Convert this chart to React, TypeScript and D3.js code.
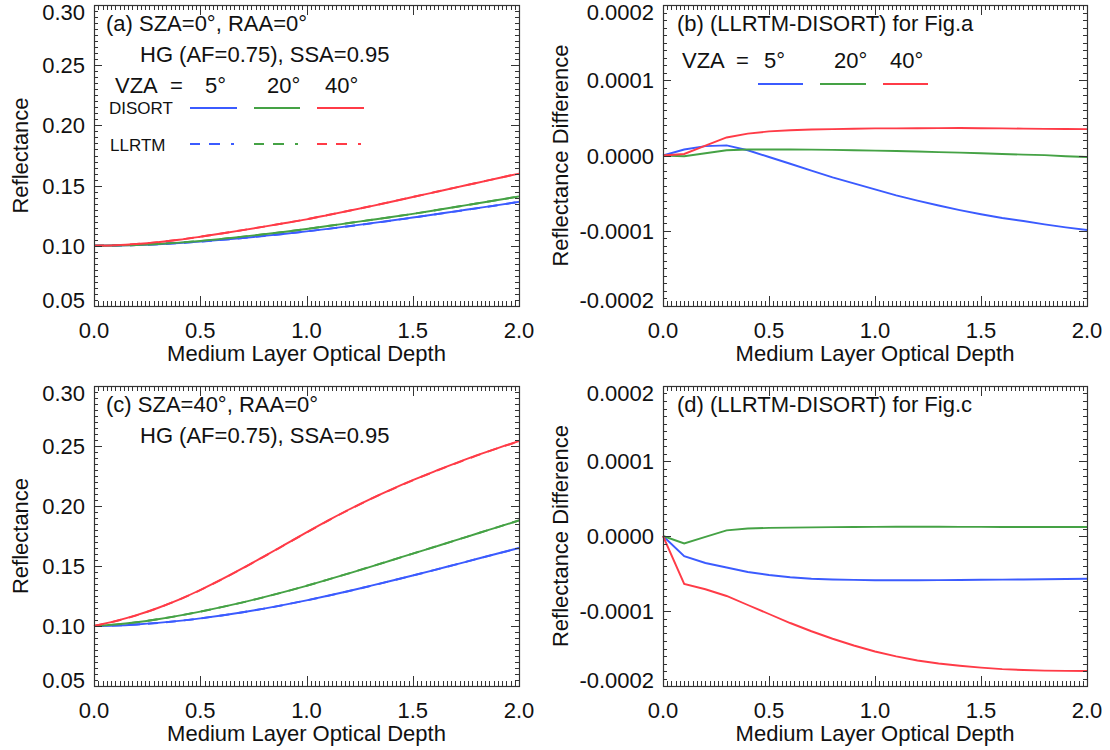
import React from "react";
import * as d3 from "d3";

// ---------------- DATA ----------------
const DEPTH = [0, 0.1, 0.2, 0.3, 0.4, 0.5, 0.6, 0.7, 0.8, 0.9, 1.0, 1.1, 1.2, 1.3, 1.4, 1.5, 1.6, 1.7, 1.8, 1.9, 2.0];
const VZA_LABELS = ["5°", "20°", "40°"];

// Panel (a): SZA=0, DISORT reflectance
const REF_A_5 = [0.1000, 0.1002, 0.1006, 0.1013, 0.1023, 0.1035, 0.1049, 0.1065, 0.1082, 0.1100, 0.1120, 0.1141, 0.1163, 0.1186, 0.1210, 0.1235, 0.1260, 0.1286, 0.1312, 0.1338, 0.1365];
const REF_A_20 = [0.1000, 0.1002, 0.1007, 0.1015, 0.1026, 0.1040, 0.1057, 0.1076, 0.1096, 0.1117, 0.1140, 0.1164, 0.1189, 0.1214, 0.1239, 0.1265, 0.1293, 0.1322, 0.1351, 0.1380, 0.1410];
const REF_A_40 = [0.1000, 0.1005, 0.1015, 0.1030, 0.1050, 0.1075, 0.1102, 0.1130, 0.1159, 0.1189, 0.1220, 0.1255, 0.1291, 0.1328, 0.1366, 0.1405, 0.1444, 0.1483, 0.1522, 0.1561, 0.1600];

// Panel (c): SZA=40, DISORT reflectance
const REF_C_5 = [0.1000, 0.1004, 0.1013, 0.1026, 0.1043, 0.1064, 0.1088, 0.1115, 0.1145, 0.1178, 0.1214, 0.1252, 0.1292, 0.1334, 0.1377, 0.1421, 0.1466, 0.1512, 0.1558, 0.1604, 0.1650];
const REF_C_20 = [0.1000, 0.1012, 0.1031, 0.1056, 0.1086, 0.1120, 0.1157, 0.1197, 0.1240, 0.1286, 0.1335, 0.1386, 0.1439, 0.1493, 0.1548, 0.1603, 0.1658, 0.1713, 0.1769, 0.1824, 0.1880];
const REF_C_40 = [0.1000, 0.1040, 0.1090, 0.1150, 0.1220, 0.1300, 0.1388, 0.1482, 0.1580, 0.1680, 0.1780, 0.1878, 0.1971, 0.2058, 0.2139, 0.2215, 0.2287, 0.2355, 0.2421, 0.2483, 0.2540];

// Panel (b): LLRTM - DISORT for (a)
const DIFF_B_5 = [0, 0.08e-4, 0.125e-4, 0.135e-4, 0.07e-4, -0.02e-4, -0.11e-4, -0.2e-4, -0.29e-4, -0.37e-4, -0.45e-4, -0.53e-4, -0.6e-4, -0.665e-4, -0.725e-4, -0.78e-4, -0.83e-4, -0.87e-4, -0.915e-4, -0.955e-4, -0.99e-4];
const DIFF_B_20 = [0, -0.01e-4, 0.03e-4, 0.07e-4, 0.08e-4, 0.08e-4, 0.08e-4, 0.078e-4, 0.075e-4, 0.07e-4, 0.065e-4, 0.06e-4, 0.053e-4, 0.045e-4, 0.038e-4, 0.03e-4, 0.02e-4, 0.012e-4, 0.005e-4, -0.01e-4, -0.02e-4];
const DIFF_B_40 = [0, 0.02e-4, 0.13e-4, 0.24e-4, 0.29e-4, 0.32e-4, 0.335e-4, 0.345e-4, 0.35e-4, 0.355e-4, 0.36e-4, 0.36e-4, 0.362e-4, 0.364e-4, 0.365e-4, 0.363e-4, 0.36e-4, 0.357e-4, 0.354e-4, 0.352e-4, 0.35e-4];

// Panel (d): LLRTM - DISORT for (c)
const DIFF_D_5 = [0, -0.27e-4, -0.36e-4, -0.42e-4, -0.48e-4, -0.52e-4, -0.55e-4, -0.57e-4, -0.58e-4, -0.585e-4, -0.59e-4, -0.59e-4, -0.59e-4, -0.588e-4, -0.586e-4, -0.584e-4, -0.582e-4, -0.58e-4, -0.577e-4, -0.574e-4, -0.57e-4];
const DIFF_D_20 = [0, -0.1e-4, -0.012e-4, 0.075e-4, 0.1e-4, 0.108e-4, 0.112e-4, 0.115e-4, 0.118e-4, 0.12e-4, 0.122e-4, 0.123e-4, 0.123e-4, 0.123e-4, 0.122e-4, 0.122e-4, 0.121e-4, 0.121e-4, 0.12e-4, 0.12e-4, 0.12e-4];
const DIFF_D_40 = [0, -0.64e-4, -0.71e-4, -0.8e-4, -0.92e-4, -1.04e-4, -1.16e-4, -1.27e-4, -1.37e-4, -1.46e-4, -1.54e-4, -1.605e-4, -1.66e-4, -1.7e-4, -1.73e-4, -1.755e-4, -1.775e-4, -1.787e-4, -1.795e-4, -1.799e-4, -1.8e-4];

const X_TICKS = [0, 0.5, 1.0, 1.5, 2.0];
const REF_TICKS = [0.05, 0.1, 0.15, 0.2, 0.25, 0.3];
const DIFF_TICKS = [-0.0002, -0.0001, 0, 0.0001, 0.0002];
const DIFF_TICK_LABELS = ["-0.0002", "-0.0001", "0.0000", "0.0001", "0.0002"];

const COLORS = ["#3b5bff", "#45a245", "#ff3b47"];
const FONT = "'Liberation Sans', Arial, Helvetica, sans-serif";

// LLRTM = DISORT + difference
const add = (a: number[], b: number[]) => a.map((v, i) => v + b[i]);

type Series = { values: number[]; color: string; dash?: string };

interface PanelProps {
  box: { x0: number; x1: number; y0: number; y1: number };
  yDomain: [number, number];
  yTicks: number[];
  yTickLabels: string[];
  yMinorStep: number;
  yLabel: string;
  yLabelX: number;
  series: Series[];
  smooth?: boolean;
}

const px = (v: number) => Math.round(v) + 0.5;

function Panel({ box, yDomain, yTicks, yTickLabels, yMinorStep, yLabel, yLabelX, series, smooth }: PanelProps) {
  const x = d3.scaleLinear().domain([0, 2]).range([box.x0, box.x1]);
  const y = d3.scaleLinear().domain(yDomain).range([box.y1, box.y0]);
  const xMinor = d3.range(0, 101).map((i) => i * 0.02);
  const nY = Math.round((yDomain[1] - yDomain[0]) / yMinorStep);
  const yMinor = d3.range(0, nY + 1).map((i) => yDomain[0] + i * yMinorStep);
  const line = d3
    .line<number>()
    .x((_, i) => x(DEPTH[i]))
    .y((d) => y(d))
    .curve(smooth ? d3.curveMonotoneX : d3.curveLinear);
  const isMajorX = (v: number) => X_TICKS.some((t) => Math.abs(t - v) < 1e-6);
  const isMajorY = (v: number) => yTicks.some((t) => Math.abs(t - v) < yMinorStep * 0.01);
  const XMAJ = 10, XMIN = 5, YMAJ = 8, YMIN = 4;
  const stroke = "#333";
  let tickPath = "";
  xMinor.forEach((v) => {
    const L = isMajorX(v) ? XMAJ : XMIN;
    const xx = px(x(v));
    tickPath += `M${xx},${box.y1}V${box.y1 - L}M${xx},${box.y0}V${box.y0 + L}`;
  });
  yMinor.forEach((v) => {
    const L = isMajorY(v) ? YMAJ : YMIN;
    const yy = px(y(v));
    tickPath += `M${box.x0},${yy}H${box.x0 + L}M${box.x1},${yy}H${box.x1 - L}`;
  });
  const nT = yTicks.length;
  const labelShift = (i: number) => (i === 0 ? -6 : i === nT - 1 ? 7 : 0);
  return (
    <g>
      {series.map((s, i) => (
        <path key={i} d={line(s.values) || ""} fill="none" stroke={s.color} strokeWidth={1.9} strokeDasharray={s.dash} />
      ))}
      <path d={tickPath} fill="none" stroke={stroke} strokeWidth={1} />
      <rect x={px(box.x0)} y={px(box.y0)} width={box.x1 - box.x0} height={box.y1 - box.y0} fill="none" stroke={stroke} strokeWidth={1.2} />
      {X_TICKS.map((v, i) => (
        <text key={"xl" + i} x={x(v)} y={box.y1 + 32} textAnchor="middle" fontSize={22} fontFamily={FONT} fill="#111">
          {d3.format(".1f")(v)}
        </text>
      ))}
      {yTicks.map((v, i) => (
        <text key={"yl" + i} x={box.x0 - 9} y={y(v) + 8 + labelShift(i)} textAnchor="end" fontSize={22} fontFamily={FONT} fill="#111">
          {yTickLabels[i]}
        </text>
      ))}
      <text x={(box.x0 + box.x1) / 2} y={box.y1 + 55} textAnchor="middle" fontSize={22} fontFamily={FONT} fill="#111">
        Medium Layer Optical Depth
      </text>
      <text
        transform={`translate(${yLabelX},${(box.y0 + box.y1) / 2}) rotate(-90)`}
        textAnchor="middle"
        fontSize={22}
        fontFamily={FONT}
        fill="#111"
      >
        {yLabel}
      </text>
    </g>
  );
}

const T = (props: { x: number; y: number; size?: number; children: React.ReactNode }) => (
  <text x={props.x} y={props.y} fontSize={props.size ?? 22} fontFamily={FONT} fill="#111">
    {props.children}
  </text>
);

export default function App() {
  const boxA = { x0: 94, x1: 519, y0: 5, y1: 306 };
  const boxB = { x0: 663, x1: 1087, y0: 5, y1: 306 };
  const boxC = { x0: 94, x1: 519, y0: 386, y1: 686 };
  const boxD = { x0: 663, x1: 1087, y0: 386, y1: 686 };
  const refLabels = REF_TICKS.map((v) => d3.format(".2f")(v));
  const dash = "10 9 11 11 3 100";

  const refA = [REF_A_5, REF_A_20, REF_A_40];
  const diffB = [DIFF_B_5, DIFF_B_20, DIFF_B_40];
  const refC = [REF_C_5, REF_C_20, REF_C_40];
  const diffD = [DIFF_D_5, DIFF_D_20, DIFF_D_40];

  const seriesA: Series[] = [
    ...refA.map((v, i) => ({ values: v, color: COLORS[i] })),
    ...refA.map((v, i) => ({ values: add(v, diffB[i]), color: COLORS[i], dash: "10 8" })),
  ];
  const seriesC: Series[] = [
    ...refC.map((v, i) => ({ values: v, color: COLORS[i] })),
    ...refC.map((v, i) => ({ values: add(v, diffD[i]), color: COLORS[i], dash: "10 8" })),
  ];
  const seriesB: Series[] = diffB.map((v, i) => ({ values: v, color: COLORS[i] }));
  const seriesD: Series[] = diffD.map((v, i) => ({ values: v, color: COLORS[i] }));

  const legLinesA = [[190, 237], [254, 300], [317, 364]];
  const legLinesB = [[758, 803], [820, 866], [883, 928]];
  const vzaXA = [205, 267, 325];
  const vzaXB = [764, 834, 890];

  return (
    <svg width={1110} height={750} style={{ position: "absolute", left: 0, top: 0, background: "#fff" }}>
      <Panel box={boxA} yDomain={[0.05, 0.3]} yTicks={REF_TICKS} yTickLabels={refLabels} yMinorStep={0.005} yLabel="Reflectance" yLabelX={28} series={seriesA} smooth />
      <Panel box={boxB} yDomain={[-0.0002, 0.0002]} yTicks={DIFF_TICKS} yTickLabels={DIFF_TICK_LABELS} yMinorStep={0.00001} yLabel="Reflectance Difference" yLabelX={568} series={seriesB} />
      <Panel box={boxC} yDomain={[0.05, 0.3]} yTicks={REF_TICKS} yTickLabels={refLabels} yMinorStep={0.005} yLabel="Reflectance" yLabelX={28} series={seriesC} smooth />
      <Panel box={boxD} yDomain={[-0.0002, 0.0002]} yTicks={DIFF_TICKS} yTickLabels={DIFF_TICK_LABELS} yMinorStep={0.00001} yLabel="Reflectance Difference" yLabelX={568} series={seriesD} />

      {/* Panel (a) annotations */}
      <T x={106} y={31}>(a) SZA=0°, RAA=0°</T>
      <T x={140} y={62}>HG (AF=0.75), SSA=0.95</T>
      <T x={115} y={93}>VZA</T>
      <T x={170} y={93}>=</T>
      {VZA_LABELS.map((l, i) => (
        <T key={"va" + i} x={vzaXA[i]} y={93}>{l}</T>
      ))}
      <T x={109} y={114} size={17}>DISORT</T>
      <T x={110} y={151} size={17}>LLRTM</T>
      {legLinesA.map(([a, b], i) => (
        <g key={"la" + i}>
          <line x1={a} x2={b} y1={108} y2={108} stroke={COLORS[i]} strokeWidth={1.9} />
          <line x1={a} x2={b} y1={144} y2={144} stroke={COLORS[i]} strokeWidth={1.9} strokeDasharray={dash} />
        </g>
      ))}

      {/* Panel (b) annotations */}
      <T x={677} y={31}>(b) (LLRTM-DISORT) for Fig.a</T>
      <T x={682} y={68}>VZA</T>
      <T x={736} y={68}>=</T>
      {VZA_LABELS.map((l, i) => (
        <T key={"vb" + i} x={vzaXB[i]} y={68}>{l}</T>
      ))}
      {legLinesB.map(([a, b], i) => (
        <line key={"lb" + i} x1={a} x2={b} y1={84} y2={84} stroke={COLORS[i]} strokeWidth={1.9} />
      ))}

      {/* Panel (c) annotations */}
      <T x={106} y={412}>(c) SZA=40°, RAA=0°</T>
      <T x={140} y={443}>HG (AF=0.75), SSA=0.95</T>

      {/* Panel (d) annotations */}
      <T x={677} y={412}>(d) (LLRTM-DISORT) for Fig.c</T>
    </svg>
  );
}
